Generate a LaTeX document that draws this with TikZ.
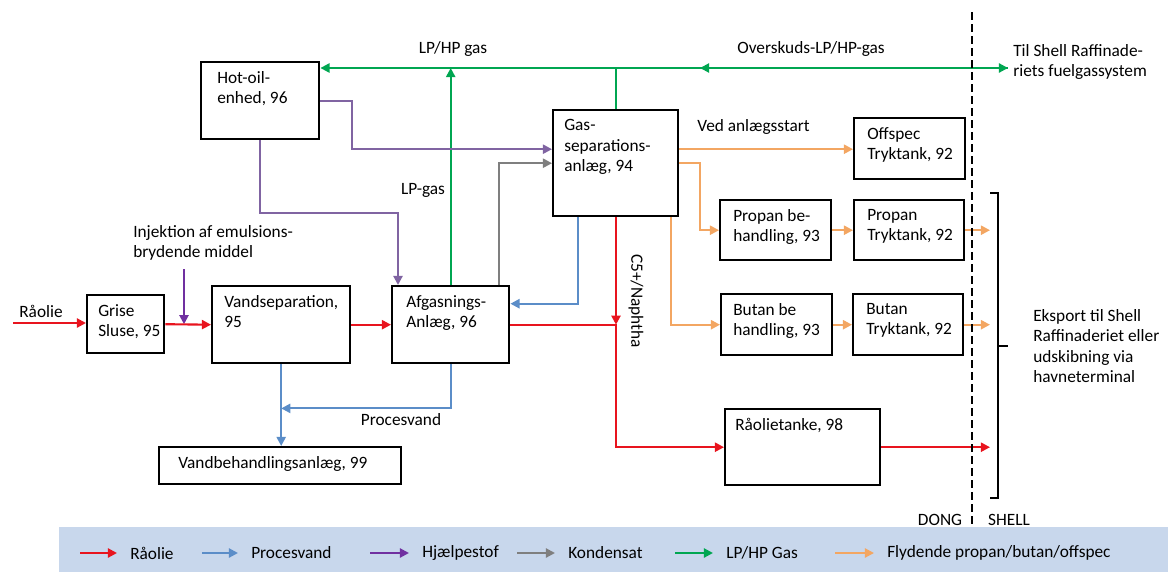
\documentclass[tikz,border=0pt]{standalone}
\usepackage{fontspec}
\setmainfont{Carlito}
\usepackage{xcolor}
\usepackage{tikz}
\usetikzlibrary{arrows.meta, positioning, calc}

\newcommand{\px}{0.025cm}
\definecolor{olierod}{HTML}{E8141E}
\definecolor{vandbla}{HTML}{5B8DC8}
\definecolor{hotlilla}{HTML}{8064A2}
\definecolor{injlilla}{HTML}{7030A0}
\definecolor{kondgra}{HTML}{7F7F7F}
\definecolor{gasgron}{HTML}{00A651}
\definecolor{flydor}{HTML}{F3A662}
\definecolor{legendbg}{HTML}{C8D7EC}

\begin{document}
\begin{tikzpicture}[
  x=\px, y=-\px,
  font=\fontsize{12.3}{14.6}\selectfont,
  box/.style={rectangle, draw, line width=1.7pt, anchor=north west, inner sep=0pt},
  lab/.style={anchor=north west, align=left, inner sep=0pt, xshift=13*\px, yshift=-10*\px},
  lbl/.style={inner sep=0pt, align=left},
  arr/.style={-{Triangle[length=6.5pt, width=6.5pt]}},
  flow/.style={line width=1.5pt},
  olie/.style={flow, draw=olierod},
  vand/.style={flow, draw=vandbla},
  hjlp/.style={flow, draw=hotlilla},
  inj/.style={flow, draw=injlilla},
  kond/.style={flow, draw=kondgra},
  gasln/.style={flow, draw=gasgron},
  flyd/.style={flow, draw=flydor},
  grense/.style={line width=1.6pt, dash pattern=on 0.2cm off 0.1cm},
  brace/.style={line width=1.4pt}
]
\useasboundingbox (0,0) rectangle (1168,572);

% --- legend band ---
\fill[legendbg] (59,527) rectangle (1168,572);

% --- boxes ---
\node[box, minimum width=118*\px, minimum height=77*\px,
      label={[lab, xshift=4*\px]north west:{Hot-oil-\\enhed, 96}}] (hot) at (200,61) {};
\node[box, minimum width=125*\px, minimum height=106*\px,
      label={[lab, xshift=-1*\px]north west:{Gas-\\separations-\\anlæg, 94}}] (gas) at (552,109) {};
\node[box, minimum width=77*\px, minimum height=58*\px,
      label={[lab, xshift=-1*\px]north west:{Grise\\Sluse, 95}}] (grise) at (86,294) {};
\node[box, minimum width=138*\px, minimum height=77*\px,
      label={[lab]north west:{Vandseparation,\\95}}] (vsep) at (211,285) {};
\node[box, minimum width=117*\px, minimum height=77*\px,
      label={[lab, xshift=2*\px]north west:{Afgasnings-\\Anlæg, 96}}] (afg) at (391,285) {};
\node[box, minimum width=242*\px, minimum height=37*\px,
      label={[lab, xshift=7*\px]north west:{Vandbehandlingsanlæg, 99}}] (vbeh) at (158,446) {};
\node[box, minimum width=111*\px, minimum height=61*\px,
      label={[lab, xshift=1*\px]north west:{Offspec\\Tryktank, 92}}] (offspec) at (853,117) {};
\node[box, minimum width=111*\px, minimum height=60*\px,
      label={[lab, xshift=1*\px]north west:{Propan be-\\handling, 93}}] (propb) at (719,199) {};
\node[box, minimum width=110*\px, minimum height=60*\px,
      label={[lab, xshift=1*\px]north west:{Propan\\Tryktank, 92}}] (propt) at (853,199) {};
\node[box, minimum width=111*\px, minimum height=61*\px,
      label={[lab]north west:{Butan be\\handling, 93}}] (butb) at (720,293) {};
\node[box, minimum width=110*\px, minimum height=61*\px,
      label={[lab, xshift=1*\px]north west:{Butan\\Tryktank, 92}}] (butt) at (852,293) {};
\node[box, minimum width=155*\px, minimum height=76*\px,
      label={[lab, xshift=-2*\px]north west:{Råolietanke, 98}}] (raa) at (724,408) {};

% --- free ends ---
\coordinate (gj) at (615,68);
\coordinate (fuel) at (1008,68);
\coordinate (gmid) at (700,68);
\coordinate (rin) at (13,323);
\coordinate (injstart) at (184,269);
\coordinate (nj) at (afg.east -| 616,0);
\coordinate (raaout) at (990,446);

% --- texts ---
\node[lbl] (tlphp) at (453,49) {LP/HP gas};
\node[lbl] (tover) at (811,49) {Overskuds-LP/HP-gas};
\node[lbl, anchor=west] (tfuel) at (1013,62) {Til Shell Raffinade-\\riets fuelgassystem};
\node[lbl] (tlp) at (423,190) {LP-gas};
\node[lbl, anchor=west] (tved) at (697,127) {Ved anlægsstart};
\node[lbl, rotate=-90] (tc5) at (636,301) {C5+/Naphtha};
\node[lbl, anchor=west] (tinj) at (133,243) {Injektion af emulsions-\\brydende middel};
\node[lbl] (traa) at (41,311) {Råolie};
\node[lbl] (tpv) at (401,420) {Procesvand};
\node[lbl, anchor=west] (teks) at (1033,346) {Eksport til Shell\\Raffinaderiet eller\\udskibning via\\havneterminal};
\node[lbl] (tdong) at (940,520) {DONG};
\node[lbl] (tshell) at (1009,520) {SHELL};

% --- LP/HP gas ---
\draw[gasln] (gas.north) -- (gas.north |- gj);
\draw[gasln, arr] (gj) -- (gj -| hot.east);
\draw[gasln, arr] (afg.north) -- (afg.north |- gj);
\draw[gasln, arr] (gj) -- (fuel);
\draw[gasln, arr] (fuel) -- (gmid);

% --- hjaelpestof ---
\draw[hjlp, arr] (hot.east) -- ++(32,0) |- ([yshift=14*\px]gas.west);
\draw[hjlp, arr] (hot.south) -- ++(0,73) -| ([xshift=7*\px]afg.north west);
\draw[inj, arr] (injstart) -- (injstart |- grise.east);

% --- kondensat ---
\draw[kond, arr] ([xshift=-11*\px]afg.north east) |- (gas.west);

% --- procesvand ---
\draw[vand, arr] ([xshift=-38*\px]gas.south) |- ([yshift=21*\px]afg.east);
\draw[vand, arr] (vsep.south) -- (vsep.south |- vbeh.north);
\draw[vand, arr] (afg.south) |- ($(vsep.south)+(0,44)$);

% --- raaolie ---
\draw[olie, arr] (rin) -- (rin -| grise.west);
\draw[olie, arr] (grise.east) -- (vsep.west);
\draw[olie, arr] (vsep.east) -- (afg.west);
\draw[olie, arr] (afg.east) -- (nj) |- (raa.west);
\draw[olie, arr] (gas.south -| nj) -- (nj);
\draw[olie, arr] (raa.east) -- (raa.east -| raaout);

% --- propan/butan/offspec ---
\draw[flyd, arr] ([yshift=14*\px]gas.east) -- ([yshift=14*\px]gas.east -| offspec.west);
\draw[flyd, arr] (gas.east) -- ++(21,0) |- (propb.west);
\draw[flyd, arr] ([xshift=55*\px]gas.south) |- (butb.west);
\draw[flyd, arr] (propb) -- (propt);
\draw[flyd, arr] (butb) -- (butt);
\draw[flyd, arr] (propt.east) -- (propt.east -| raaout);
\draw[flyd, arr] (butt.east) -- (butt.east -| raaout);

% --- DONG / SHELL border and bracket ---
\draw[grense] (972,12) -- (972,527);
\draw[brace] (990,193) -- (998,193) -- (998,498) -- (990,498);
\draw[brace] (998,346) -- (1008,346);

% --- legend ---
\foreach \st/\xa/\xt/\txt in {olie/80/130/Råolie, vand/202/251/Procesvand,
    inj/370/422/Hjælpestof, kond/517/568/Kondensat,
    gasln/675/726/{LP/HP Gas}, flyd/835/887/{Flydende propan/butan/offspec}} {
  \node[lbl, anchor=west] (lg\st) at (\xt,553) {\txt};
  \draw[\st, arr] (\xa,553) -- ([xshift=-13*\px]lg\st.west);
}

\end{tikzpicture}
\end{document}
